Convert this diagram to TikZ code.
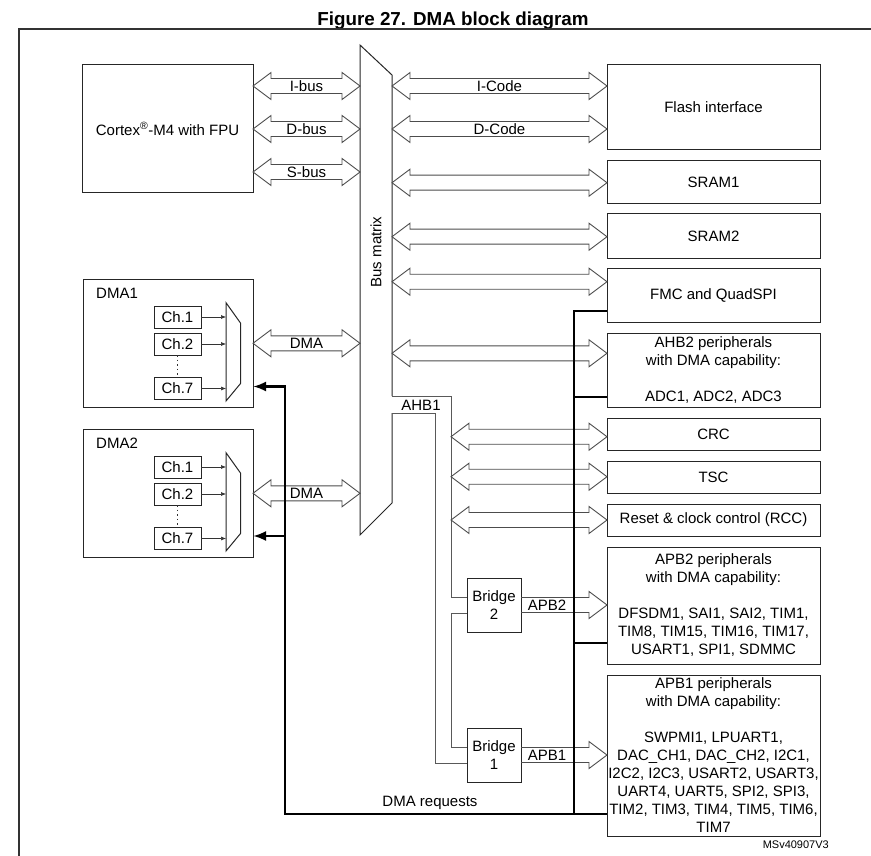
\documentclass[tikz,border=0pt]{standalone}
\usepackage{fontspec}
\setmainfont{Liberation Sans}
\usetikzlibrary{calc,arrows.meta}
\newcommand\dblarr[4]{%
  \draw[fat] let \p1=(#1), \p2=(#2) in
    (\x1,#3pt) -- (\x1+18pt,#3pt+13.5pt) -- (\x1+18pt,#3pt+7.5pt) -- (\x2-18pt,#3pt+7.5pt)
    -- (\x2-18pt,#3pt+13.5pt) -- (\x2,#3pt) -- (\x2-18pt,#3pt-13.5pt) -- (\x2-18pt,#3pt-7.5pt)
    -- (\x1+18pt,#3pt-7.5pt) -- (\x1+18pt,#3pt-13.5pt) -- cycle
    node[lab] at ({(\x1+\x2)/2},#3pt) {#4};}
\newcommand\sglarr[4]{%
  \draw[fat] let \p1=(#1), \p2=(#2) in
    (\x1,#3pt+7.5pt) -- (\x2-18pt,#3pt+7.5pt)
    -- (\x2-18pt,#3pt+13.5pt) -- (\x2,#3pt) -- (\x2-18pt,#3pt-13.5pt) -- (\x2-18pt,#3pt-7.5pt)
    -- (\x1,#3pt-7.5pt)
    node[lab] at (\x1+26pt,#3pt) {#4};}
\begin{document}
\begin{tikzpicture}[x=1pt,y=1pt,
  box/.style={draw=black!85, line width=1pt, inner sep=0pt, outer sep=0pt, align=center,
    font=\fontsize{15}{18}\selectfont},
  chbox/.style={box, minimum width=47pt, minimum height=22pt},
  fat/.style={draw=black!70, line width=0.9pt, line join=miter},
  lab/.style={font=\fontsize{15}{18}\selectfont, inner sep=0pt},
  bmline/.style={draw=black!85, line width=1pt, line join=miter},
  pipe/.style={draw=black!65, line width=0.8pt},
  req/.style={line width=2.8pt, black, line join=miter},
  reqarr/.style={req, -{Latex[length=13pt,width=10pt]}},
  charr/.style={draw=black!80, line width=0.6pt, -{Latex[length=5pt,width=4pt]}},
  muxline/.style={draw=black!85, line width=1pt, line join=miter}]
\useasboundingbox (0,0) rectangle (871,-856);

% title and frame
\node[font=\bfseries\fontsize{18.8}{22}\selectfont] (title) at (453,-20.5) {Figure 27. DMA block diagram};
\draw[line width=1.3pt, black!80] (19,-856) -- (19,-29) -- (871,-29);

% CPU
\node[box, minimum width=171pt, minimum height=128pt] (cortex) at (167.5,-129) {Cortex\textsuperscript{®}-M4 with FPU};

% right column
\node[box, minimum width=213pt, minimum height=85pt] (flash) at (713.5,-107.5) {Flash interface};
\node[box, minimum width=213pt, minimum height=43pt] (sram1) at (713.5,-182.5) {SRAM1};
\node[box, minimum width=213pt, minimum height=44pt] (sram2) at (713.5,-236) {SRAM2};
\node[box, minimum width=213pt, minimum height=54pt] (fmc) at (713.5,-295) {FMC and QuadSPI};
\node[box, minimum width=213pt, minimum height=74pt] (ahb2) at (713.5,-370) {AHB2 peripherals\\with DMA capability:\\[18pt]ADC1, ADC2, ADC3};
\node[box, minimum width=213pt, minimum height=32pt] (crc) at (713.5,-434) {CRC};
\node[box, minimum width=213pt, minimum height=32pt] (tsc) at (713.5,-477) {TSC};
\node[box, minimum width=213pt, minimum height=32pt] (rcc) at (713.5,-520) {Reset \& clock control (RCC)};
\node[box, minimum width=213pt, minimum height=117pt] (apb2) at (713.5,-605.5) {APB2 peripherals\\with DMA capability:\\[18pt]DFSDM1, SAI1, SAI2, TIM1,\\TIM8, TIM15, TIM16, TIM17,\\USART1, SPI1, SDMMC};
\node[box, minimum width=213pt, minimum height=161pt] (apb1) at (713.5,-755.5) {APB1 peripherals\\with DMA capability:\\[18pt]SWPMI1, LPUART1,\\DAC\_CH1, DAC\_CH2, I2C1,\\I2C2, I2C3, USART2, USART3,\\UART4, UART5, SPI2, SPI3,\\TIM2, TIM3, TIM4, TIM5, TIM6,\\TIM7};
\node[font=\fontsize{11}{13}\selectfont, anchor=east, inner sep=0pt] (code) at (829,-845) {MSv40907V3};

% bridges
\node[box, minimum width=54pt, minimum height=54pt] (b2) at (494,-605) {Bridge\\2};
\node[box, minimum width=54pt, minimum height=54pt] (b1) at (494,-755) {Bridge\\1};

% DMA controllers
\foreach \n/\dy in {1/0,2/150}{
  \node[box, minimum width=170pt, minimum height=128pt] (dma\n) at (168,-343-\dy) {};
  \node[lab, anchor=west] (dmalab\n) at (96,-293-\dy) {DMA\n};
  \node[chbox] (c\n a) at (177.5,-317-\dy) {Ch.1};
  \node[chbox] (c\n b) at (177.5,-344-\dy) {Ch.2};
  \node[chbox] (c\n c) at (177.5,-388.5-\dy) {Ch.7};
  \draw[muxline] (226,-302.7-\dy) -- (240.7,-323.3-\dy) -- (240.7,-383.3-\dy) -- (226,-401-\dy) -- cycle;
  \coordinate (mux\n) at (226,-350-\dy);
  \draw[charr] (c\n a.east) -- (c\n a.east -| mux\n);
  \draw[charr] (c\n b.east) -- (c\n b.east -| mux\n);
  \draw[charr] (c\n c.east) -- (c\n c.east -| mux\n);
  \draw[black!80, line width=0.8pt, dash pattern=on 1.5pt off 3pt] (c\n b.south) -- (c\n c.north);
}

% bus matrix and AHB1 pipe
\coordinate (bmL) at (360,-300);
\coordinate (bmR) at (392,-300);
\coordinate (ahbR) at (451,-500);
\draw[bmline] (392,-396) -- (392,-75) -- (360,-45) -- (360,-535) -- (392,-503) -- (392,-413);
\node[lab, rotate=90] (bmlab) at (376,-252) {Bus matrix};
\draw[pipe] (392,-413) -- (435,-413) -- (435,-763) -- ($(b1.west)+(0,-8)$);
\draw[pipe] (392,-396) -- (451,-396) -- (451,-597) -- ($(b2.west)+(0,8)$);
\draw[pipe] ($(b2.west)+(0,-8)$) -- (451,-613) -- (451,-747) -- ($(b1.west)+(0,8)$);
\node[lab] (ahb1lab) at (421,-405) {AHB1};

% fat bus arrows
\dblarr{cortex.east}{bmL}{-86}{I-bus}
\dblarr{cortex.east}{bmL}{-129}{D-bus}
\dblarr{cortex.east}{bmL}{-172}{S-bus}
\dblarr{dma1.east}{bmL}{-343.3}{DMA}
\dblarr{dma2.east}{bmL}{-493.3}{DMA}
\dblarr{bmR}{flash.west}{-86}{I-Code}
\dblarr{bmR}{flash.west}{-129}{D-Code}
\dblarr{bmR}{sram1.west}{-182.7}{}
\dblarr{bmR}{sram2.west}{-236.7}{}
\dblarr{bmR}{fmc.west}{-281.7}{}
\dblarr{bmR}{ahb2.west}{-353.3}{}
\dblarr{ahbR}{crc.west}{-436.7}{}
\dblarr{ahbR}{tsc.west}{-476.7}{}
\dblarr{ahbR}{rcc.west}{-520}{}
\sglarr{b2.east}{apb2.west}{-605}{APB2}
\sglarr{b1.east}{apb1.west}{-755}{APB1}

% DMA request lines
\coordinate (jt) at (574,-311);
\coordinate (ja) at (574,-397);
\coordinate (jp) at (574,-643);
\coordinate (jb) at (574,-814);
\coordinate (rl) at (285,-814);
\coordinate (r1) at ($(dma1.east)+(0,-43.5)$);
\coordinate (r2) at ($(dma2.east)+(0,-43)$);
\draw[req] (jt -| fmc.west) -- (jt) -- (jb) -- (jb -| apb1.west);
\draw[req] (ja) -- (ja -| ahb2.west);
\draw[req] (jp) -- (jp -| apb2.west);
\draw[reqarr] (jb) -- (rl) -- (rl |- r1) -- (r1);
\draw[reqarr] (rl |- r2) -- (r2);
\node[lab] (reqlab) at (430,-803) {DMA requests};
\end{tikzpicture}
\end{document}
